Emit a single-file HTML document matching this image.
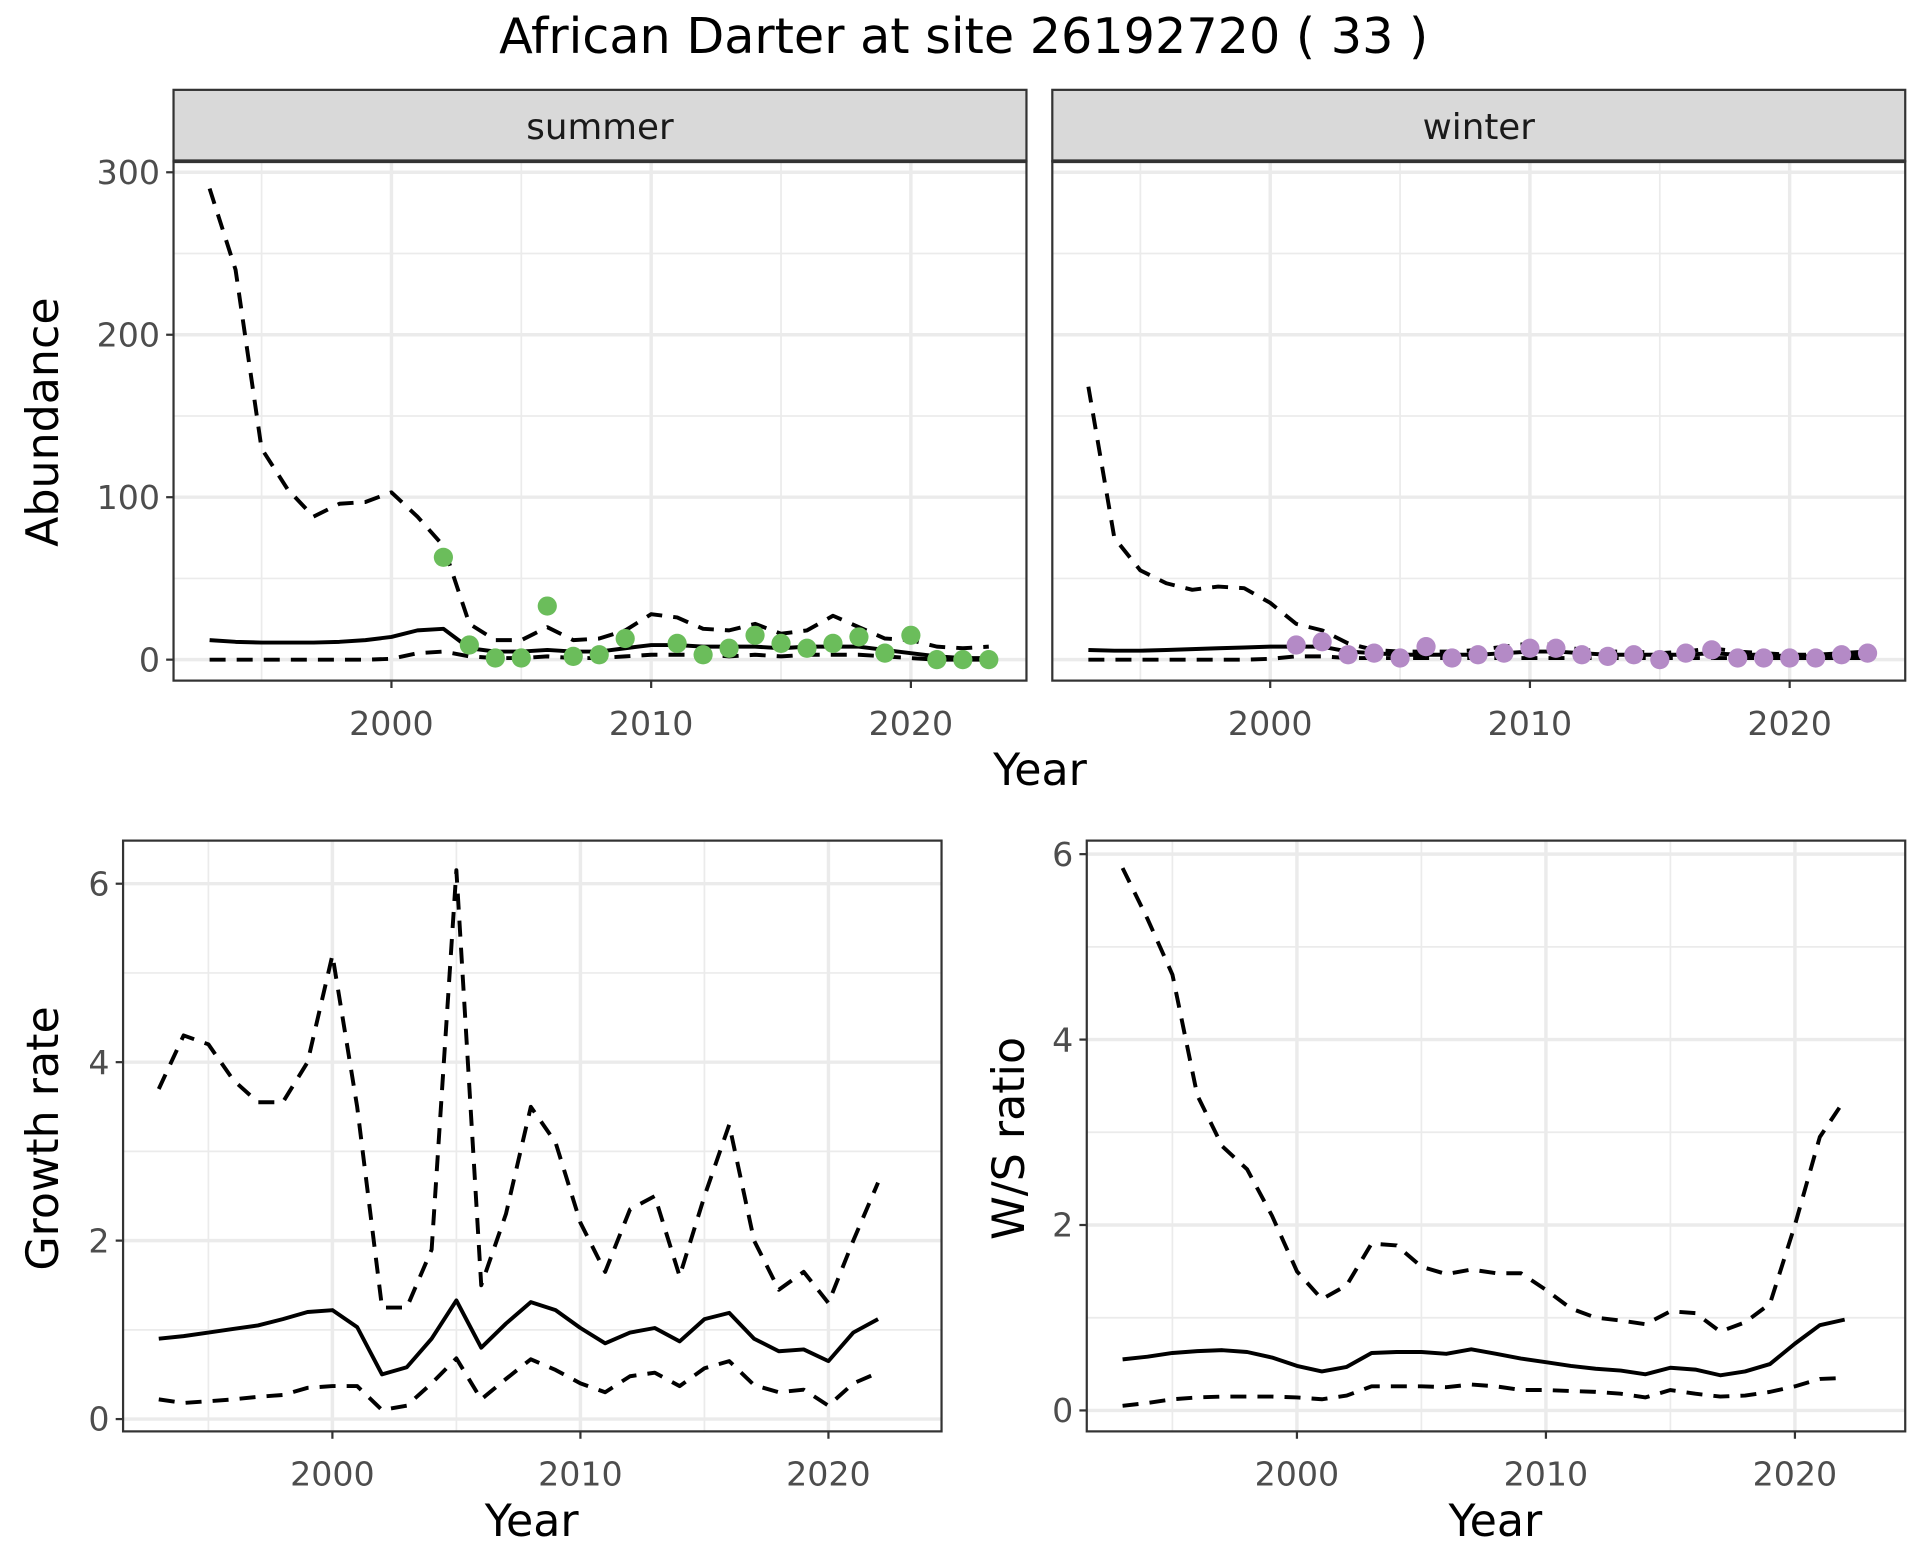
<!DOCTYPE html>
<html><head><meta charset="utf-8">
<style>
html,body{margin:0;padding:0;background:#fff;}
svg{display:block;font-family:"DejaVu Sans","Liberation Sans",sans-serif;}
</style></head>
<body>
<svg id="chart" width="1920" height="1560" viewBox="0 0 1560 1267.5" xmlns="http://www.w3.org/2000/svg">
<rect x="0" y="0" width="1560" height="1267.5" fill="#fff"/>
<text x="783" y="43" font-size="40" text-anchor="middle" fill="#000">African Darter at site 26192720 ( 33 )</text>
</svg>
<script>
// ---- data ----
const yearsAbund = [1993,1994,1995,1996,1997,1998,1999,2000,2001,2002,2003,2004,2005,2006,2007,2008,2009,2010,2011,2012,2013,2014,2015,2016,2017,2018,2019,2020,2021,2022,2023];
const summerUpper = [290,240,130,105,88,96,97,103,88,70,22,12,12,20,12,13,18,28,26,19,18,22,16,18,27,20,13,12,8,7,8];
const summerMean = [12,11,10.5,10.5,10.5,11,12,14,18,19,7,5,5,6,5,5,7,9,9,8,8,8,7,8,8,8,6,4,2,1,1];
const summerLower = [0,0,0,0,0,0,0,0.5,4,5,2,1,1,2,1,1,2,3,3,3,2,3,2,3,3,3,2,1,0,0,0];
const summerObsYears = [2002,2003,2004,2005,2006,2007,2008,2009,2011,2012,2013,2014,2015,2016,2017,2018,2019,2020,2021,2022,2023];
const summerObs = [63,9,1,1,33,2,3,13,10,3,7,15,10,7,10,14,4,15,0,0,0];
const winterUpper = [168,75,55,47,43,45,44,35,22,18,10,6,5,5,5,6,8,10,9,6,5,5,4,5,7,5,4,3,3,4,5];
const winterMean = [6,5.5,5.5,6,6.5,7,7.5,8,8,8,5,4,3,3,3,3,4,5,5,4,3,3,3,3,4,3,3,2,2,3,3];
const winterLower = [0,0,0,0,0,0,0,0.5,2,2,1,1,1,1,1,1,1,1,1,1,1,1,1,1,1,1,1,1,1,1,1];
const winterObsYears = [2001,2002,2003,2004,2005,2006,2007,2008,2009,2010,2011,2012,2013,2014,2015,2016,2017,2018,2019,2020,2021,2022,2023];
const winterObs = [9,11,3,4,1,8,1,3,4,7,7,3,2,3,0,4,6,1,1,1,1,3,4];
const yearsRate = [1993,1994,1995,1996,1997,1998,1999,2000,2001,2002,2003,2004,2005,2006,2007,2008,2009,2010,2011,2012,2013,2014,2015,2016,2017,2018,2019,2020,2021,2022];
const growthUpper = [3.7,4.3,4.2,3.8,3.55,3.55,4.0,5.2,3.5,1.25,1.25,1.9,6.15,1.5,2.3,3.5,3.1,2.2,1.65,2.35,2.5,1.6,2.5,3.3,2.0,1.45,1.65,1.3,2.0,2.65];
const growthMean = [0.9,0.93,0.97,1.01,1.05,1.12,1.2,1.22,1.03,0.5,0.58,0.9,1.33,0.8,1.07,1.31,1.22,1.02,0.85,0.97,1.02,0.87,1.12,1.19,0.9,0.76,0.78,0.65,0.97,1.12];
const growthLower = [0.22,0.18,0.2,0.22,0.25,0.27,0.35,0.37,0.37,0.1,0.15,0.4,0.68,0.22,0.45,0.67,0.55,0.4,0.3,0.48,0.52,0.37,0.57,0.65,0.38,0.3,0.33,0.15,0.4,0.52];
const ratioUpper = [5.85,5.3,4.7,3.4,2.85,2.6,2.1,1.5,1.2,1.35,1.8,1.78,1.55,1.47,1.52,1.48,1.48,1.3,1.1,1.0,0.97,0.93,1.07,1.05,0.85,0.95,1.15,2.0,2.95,3.35];
const ratioMean = [0.55,0.58,0.62,0.64,0.65,0.63,0.57,0.48,0.42,0.47,0.62,0.63,0.63,0.61,0.66,0.61,0.56,0.52,0.48,0.45,0.43,0.39,0.46,0.44,0.38,0.42,0.5,0.72,0.92,0.98];
const ratioLower = [0.05,0.08,0.12,0.14,0.15,0.15,0.15,0.14,0.12,0.16,0.26,0.26,0.26,0.25,0.28,0.26,0.22,0.22,0.21,0.2,0.18,0.14,0.22,0.18,0.15,0.16,0.2,0.26,0.34,0.35];
const xTicks = [2000,2010,2020];
const xMinor = [1995,2005,2015];
const abundTicks = [0,100,200,300];
const abundMinor = [50,150,250];
const rateTicks = [0,2,4,6];
const rateMinor = [1,3,5];

const NS = "http://www.w3.org/2000/svg";
const svg = document.getElementById('chart');
function mk(tag, attrs, parent){
  const e = document.createElementNS(NS, tag);
  for (const k in attrs) e.setAttribute(k, attrs[k]);
  (parent||svg).appendChild(e);
  return e;
}
function panel(o){
  const g = mk('g', {});
  
  
  const sx = v => o.x0 + (v - o.xd0) / (o.xd1 - o.xd0) * (o.x1 - o.x0);
  const sy = v => o.y1 - (v - o.yd0) / (o.yd1 - o.yd0) * (o.y1 - o.y0);
  mk('rect', {x:o.x0, y:o.y0, width:o.x1-o.x0, height:o.y1-o.y0, fill:'#fff'}, g);
  o.yMinor.forEach(v => mk('line', {x1:o.x0, x2:o.x1, y1:sy(v), y2:sy(v), stroke:'#ebebeb', 'stroke-width':1.4}, g));
  xMinor.forEach(v => mk('line', {x1:sx(v), x2:sx(v), y1:o.y0, y2:o.y1, stroke:'#ebebeb', 'stroke-width':1.4}, g));
  o.yTicks.forEach(v => mk('line', {x1:o.x0, x2:o.x1, y1:sy(v), y2:sy(v), stroke:'#ebebeb', 'stroke-width':2.8}, g));
  xTicks.forEach(v => mk('line', {x1:sx(v), x2:sx(v), y1:o.y0, y2:o.y1, stroke:'#ebebeb', 'stroke-width':2.8}, g));
  const line = (ys, dashed, nm) => {
    const d = o.years.map((yr,i) => (i?'L':'M') + sx(yr).toFixed(1) + ',' + sy(ys[i]).toFixed(1)).join(' ');
    const p = mk('path', {d:d, fill:'none', stroke:'#000', 'stroke-width':3.2, 'stroke-linejoin':'round'}, g);
    if (dashed) p.setAttribute('stroke-dasharray', '13 9');
    
    
  };
  line(o.upper, true, o.name + '-upper-bound');
  line(o.mean, false, o.name + '-mean-line');
  line(o.lower, true, o.name + '-lower-bound');
  if (o.obs) {
    o.obsYears.forEach((yr,i) => {
      const c = mk('circle', {cx:sx(yr), cy:sy(o.obs[i]), r:7.8, fill:o.color}, g);
      
      
    });
  }
  mk('rect', {x:o.x0, y:o.y0, width:o.x1-o.x0, height:o.y1-o.y0, fill:'none', stroke:'#333', 'stroke-width':1.8}, g);
  if (o.yLabels) {
    o.yTicks.forEach(v => {
      mk('line', {x1:o.x0-6, x2:o.x0, y1:sy(v), y2:sy(v), stroke:'#333', 'stroke-width':1.8}, g);
      const t = mk('text', {x:o.x0-11, y:sy(v)+9.5, 'font-size':27, 'text-anchor':'end', fill:'#4d4d4d'}, g);
      t.textContent = v;
      
      
    });
  }
  xTicks.forEach(v => {
    mk('line', {x1:sx(v), x2:sx(v), y1:o.y1, y2:o.y1+6, stroke:'#333', 'stroke-width':1.8}, g);
    const t = mk('text', {x:sx(v), y:o.y1+44, 'font-size':27, 'text-anchor':'middle', fill:'#4d4d4d'}, g);
    t.textContent = v;
    
    
  });
  if (o.strip) {
    mk('rect', {x:o.x0, y:73, width:o.x1-o.x0, height:o.y0-73, fill:'#d9d9d9', stroke:'#333', 'stroke-width':1.8}, g);
    mk('line', {x1:o.x0, x2:o.x1, y1:o.y0, y2:o.y0, stroke:'#333', 'stroke-width':3}, g);
    const t = mk('text', {x:(o.x0+o.x1)/2, y:113, 'font-size':29, 'text-anchor':'middle', fill:'#1a1a1a'}, g);
    t.textContent = o.strip;
    
    
  }
}
function label(txt, x, y, rot, nm){
  const t = mk('text', {x:x, y:y, 'font-size':36, 'text-anchor':'middle', fill:'#000'});
  if (rot) t.setAttribute('transform', 'rotate(-90 ' + x + ' ' + y + ')');
  t.textContent = txt;
  
  
}
panel({name:'summer-panel', x0:141, x1:834, y0:131, y1:553, xd0:1991.61, xd1:2024.45, yd0:-12.9, yd1:306.8,
  years:yearsAbund, upper:summerUpper, mean:summerMean, lower:summerLower, obsYears:summerObsYears, obs:summerObs,
  color:'#6bbd5b', yTicks:abundTicks, yMinor:abundMinor, yLabels:true, strip:'summer'});
panel({name:'winter-panel', x0:855, x1:1548, y0:131, y1:553, xd0:1991.61, xd1:2024.45, yd0:-12.9, yd1:306.8,
  years:yearsAbund, upper:winterUpper, mean:winterMean, lower:winterLower, obsYears:winterObsYears, obs:winterObs,
  color:'#b48ac6', yTicks:abundTicks, yMinor:abundMinor, yLabels:false, strip:'winter'});
panel({name:'growth-rate-panel', x0:100, x1:765, y0:683, y1:1163, xd0:1991.56, xd1:2024.56, yd0:-0.138, yd1:6.483,
  years:yearsRate, upper:growthUpper, mean:growthMean, lower:growthLower, yTicks:rateTicks, yMinor:rateMinor, yLabels:true});
panel({name:'ws-ratio-panel', x0:883, x1:1548, y0:683, y1:1163, xd0:1991.56, xd1:2024.43, yd0:-0.226, yd1:6.146,
  years:yearsRate, upper:ratioUpper, mean:ratioMean, lower:ratioLower, yTicks:rateTicks, yMinor:rateMinor, yLabels:true});
label('Abundance', 47, 343, true, 'y-axis-title-abundance');
label('Year', 845, 638, false, 'x-axis-title-top');
label('Growth rate', 47, 925, true, 'y-axis-title-growth-rate');
label('Year', 432, 1248, false, 'x-axis-title-growth');
label('W/S ratio', 832, 925, true, 'y-axis-title-ws-ratio');
label('Year', 1215, 1248, false, 'x-axis-title-ratio');
</script>
</body></html>
